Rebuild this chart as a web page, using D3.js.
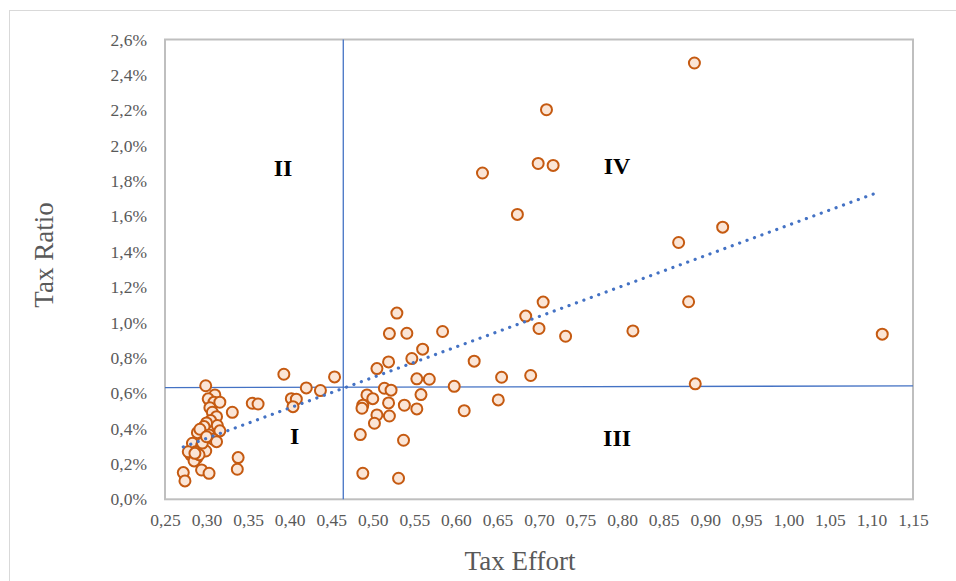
<!DOCTYPE html>
<html>
<head>
<meta charset="utf-8">
<script src="https://cdn.jsdelivr.net/npm/d3@7"></script>
<style>
  html, body { margin: 0; padding: 0; background: #fff; }
  svg { display: block; }
  text { font-family: "Liberation Serif", "DejaVu Serif", serif; }
</style>
</head>
<body>
<svg id="chart" width="956" height="581"></svg>
<script>
// Tax effort (x) vs tax ratio in percent (y), one point per observation
const taxEffort = [
  0.887, 0.709, 0.632, 0.699, 0.717, 0.674, 0.921, 0.868, 0.705, 0.684, 0.880,
  0.700, 0.732, 0.813, 1.113, 0.622, 0.655, 0.690, 0.888, 0.651, 0.610,
  0.529, 0.520, 0.541, 0.584, 0.560, 0.547, 0.519, 0.505, 0.553, 0.568, 0.598,
  0.514, 0.522, 0.493, 0.500, 0.488, 0.487, 0.519, 0.538, 0.558, 0.553, 0.505,
  0.520, 0.502, 0.485, 0.537, 0.488, 0.531,
  0.454, 0.393, 0.420, 0.437, 0.402, 0.408, 0.404, 0.355, 0.362,
  0.299, 0.310, 0.302, 0.309, 0.316, 0.304, 0.307, 0.312, 0.305, 0.300, 0.313,
  0.297, 0.316, 0.289, 0.292, 0.303, 0.308, 0.312, 0.283, 0.294, 0.299, 0.287,
  0.281, 0.288, 0.285, 0.291, 0.295, 0.278, 0.294, 0.303, 0.272, 0.274, 0.338,
  0.337, 0.331, 0.300, 0.286
];
const taxRatio = [
  2.467, 2.203, 1.845, 1.899, 1.888, 1.611, 1.539, 1.452, 1.115, 1.036, 1.117,
  0.966, 0.922, 0.952, 0.934, 0.781, 0.690, 0.700, 0.653, 0.562, 0.501,
  1.053, 0.937, 0.939, 0.949, 0.849, 0.796, 0.777, 0.739, 0.681, 0.679, 0.639,
  0.628, 0.617, 0.590, 0.569, 0.532, 0.515, 0.545, 0.532, 0.592, 0.511, 0.477,
  0.471, 0.430, 0.366, 0.334, 0.147, 0.119,
  0.692, 0.707, 0.630, 0.615, 0.569, 0.566, 0.524, 0.543, 0.539,
  0.642, 0.590, 0.568, 0.549, 0.549, 0.518, 0.492, 0.467, 0.445, 0.432, 0.417,
  0.411, 0.387, 0.377, 0.396, 0.364, 0.340, 0.326, 0.317, 0.303, 0.273, 0.269,
  0.251, 0.232, 0.217, 0.252, 0.318, 0.269, 0.166, 0.147, 0.151, 0.104, 0.236,
  0.170, 0.492, 0.354, 0.260
];

// Linear trend line end points [effort, ratio]
const trendLine = [[0.272, 0.296], [1.104, 1.729]];
// Quadrant dividers
const hDivider = [[0.25, 0.632], [1.15, 0.641]];
const vDivider = [[0.4645, 0], [0.4645, 2.6]];
// Quadrant labels
const quadrantNames = ["I", "II", "III", "IV"];
const quadrantPos = [[0.406, 0.36], [0.392, 1.875], [0.794, 0.349], [0.794, 1.886]];

const xTicks = [0.25, 0.30, 0.35, 0.40, 0.45, 0.50, 0.55, 0.60, 0.65, 0.70, 0.75,
                0.80, 0.85, 0.90, 0.95, 1.00, 1.05, 1.10, 1.15];
const yTicks = [0, 0.2, 0.4, 0.6, 0.8, 1.0, 1.2, 1.4, 1.6, 1.8, 2.0, 2.2, 2.4, 2.6];

const points = taxEffort.map((e, i) => ({ x: e, y: taxRatio[i] }));

const svg = d3.select("#chart");
const plotLeft = 165, plotRight = 913, plotTop = 39.5, plotBottom = 499.3;

const x = d3.scaleLinear().domain([0.25, 1.15]).range([plotLeft, plotRight]);
const y = d3.scaleLinear().domain([0, 2.6]).range([plotBottom, plotTop]);

const locale = d3.formatLocale({ decimal: ",", thousands: ".", grouping: [3], currency: ["", ""] });
const fx = locale.format(".2f");
const fy = locale.format(".1f");

// outer chart frame
svg.append("rect")
  .attr("x", 9.5).attr("y", 10.5)
  .attr("width", 1000).attr("height", 1000)
  .attr("fill", "none").attr("stroke", "#d9d9d9").attr("stroke-width", 1);

// plot area frame
svg.append("rect")
  .attr("x", plotLeft).attr("y", plotTop)
  .attr("width", plotRight - plotLeft).attr("height", plotBottom - plotTop)
  .attr("fill", "#fff").attr("stroke", "#bfbfbf").attr("stroke-width", 2);

// axes (labels only)
const xAxis = svg.append("g")
  .attr("transform", `translate(0,${plotBottom})`)
  .call(d3.axisBottom(x).tickValues(xTicks).tickSize(0).tickPadding(14).tickFormat(fx));
const yAxis = svg.append("g")
  .attr("transform", `translate(${plotLeft},0)`)
  .call(d3.axisLeft(y).tickValues(yTicks).tickSize(0).tickPadding(18).tickFormat(d => fy(d) + "%"));
[xAxis, yAxis].forEach(g => {
  g.select(".domain").remove();
  g.selectAll("text")
    .attr("fill", "#595959")
    .style("font-family", '"Liberation Serif", serif')
    .style("font-size", "17.5px");
});

// quadrant divider lines
const line = d3.line().x(d => x(d[0])).y(d => y(d[1]));
svg.append("path").attr("d", line(hDivider))
  .attr("fill", "none").attr("stroke", "#4472c4").attr("stroke-width", 1.3);
svg.append("path").attr("d", line(vDivider))
  .attr("fill", "none").attr("stroke", "#4472c4").attr("stroke-width", 1.3);

// scatter points
svg.append("g").selectAll("circle")
  .data(points)
  .join("circle")
  .attr("cx", d => x(d.x))
  .attr("cy", d => y(d.y))
  .attr("r", 5.5)
  .attr("fill", "#fbe5d6")
  .attr("stroke", "#c55a11")
  .attr("stroke-width", 2);

// dotted trend line
svg.append("path").attr("d", line(trendLine))
  .attr("fill", "none")
  .attr("stroke", "#4472c4")
  .attr("stroke-width", 3.2)
  .attr("stroke-linecap", "round")
  .attr("stroke-dasharray", "0.1 7.8");

// quadrant labels
svg.append("g").selectAll("text")
  .data(quadrantNames)
  .join("text")
  .attr("x", (d, i) => x(quadrantPos[i][0]))
  .attr("y", (d, i) => y(quadrantPos[i][1]))
  .attr("text-anchor", "middle")
  .attr("dominant-baseline", "central")
  .attr("font-weight", "bold")
  .attr("font-size", 24)
  .attr("fill", "#000")
  .text(d => d);

// axis titles
svg.append("text")
  .attr("x", (plotLeft + plotRight) / 2 - 19)
  .attr("y", 570)
  .attr("text-anchor", "middle")
  .attr("font-size", 27)
  .attr("fill", "#595959")
  .text("Tax Effort");
svg.append("text")
  .attr("transform", "translate(53,255) rotate(-90)")
  .attr("text-anchor", "middle")
  .attr("font-size", 27)
  .attr("fill", "#595959")
  .text("Tax Ratio");
</script>
</body>
</html>
